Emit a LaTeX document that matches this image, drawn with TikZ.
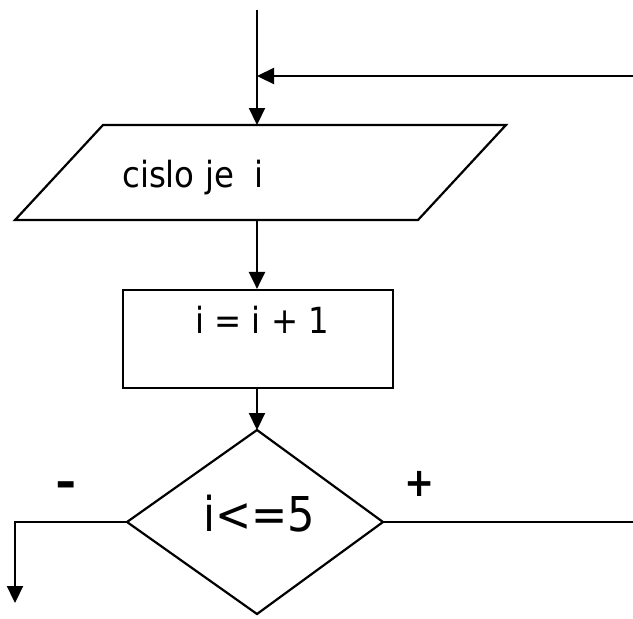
\documentclass[tikz,border=0pt]{standalone}
\usepackage{fontspec}
\setmainfont{DejaVu Sans}[FakeStretch=0.9]
\usetikzlibrary{arrows.meta}
\begin{document}
\begin{tikzpicture}[x=1pt,y=-1pt,
  line/.style={line width=2.2pt,line join=miter},
  flow/.style={line, -{Triangle[length=17pt,width=16pt]}},
  label/.style={inner sep=0pt,anchor=base west,font=\fontsize{36}{40}\selectfont},
  sign/.style={inner sep=0pt,font=\fontsize{40}{44}\selectfont\bfseries}]
\useasboundingbox (0,0) rectangle (633,619);

% entry points
\coordinate (start) at (257,10);
\coordinate (feed) at (633,76);
\coordinate (join) at (257,76);

% input block (parallelogram)
\coordinate (in-tl) at (103,125);
\coordinate (in-tr) at (506,125);
\coordinate (in-br) at (418,220);
\coordinate (in-bl) at (15,220);
\coordinate (in-top) at (257,125);
\coordinate (in-bot) at (257,220);
\draw[line] (in-tl) -- (in-tr) -- (in-br) -- (in-bl) -- cycle;
\node[label] (inText) at (122,187) {cislo je\hspace{21pt}i};

% increment block
\node[line,draw,inner sep=0pt,minimum width=270pt,minimum height=98pt] (inc) at (258,339) {};
\node[label] (incText) at (195,333) {i = i + 1};

% decision
\coordinate (d-top) at (257,430);
\coordinate (d-left) at (127,522);
\coordinate (d-right) at (383,522);
\coordinate (d-bot) at (257,614);
\draw[line] (d-top) -- (d-right) -- (d-bot) -- (d-left) -- cycle;
\node[label,font=\fontsize{48}{52}\selectfont] (cond) at (203,531) {i<=5};

% branch ends
\coordinate (no-corner) at (15,522);
\coordinate (no-end) at (15,603);
\coordinate (yes-end) at (633,522);
\node[sign,font=\fontsize{44}{48}\selectfont\bfseries] (minus) at (66,490) {\scalebox{1.3}[1]{-}};
\node[sign] (plus) at (420,484) {+};

% connectors
\draw[line] (start) -- (join);
\draw[flow] (join) -- (in-top);
\draw[flow] (feed) -- (join);
\draw[flow] (in-bot) -- (inc.north -| in-bot);
\draw[flow] (inc.south -| d-top) -- (d-top);
\draw[flow] (d-left) -- (no-corner) -- (no-end);
\draw[line] (d-right) -- (yes-end);
\end{tikzpicture}
\end{document}
